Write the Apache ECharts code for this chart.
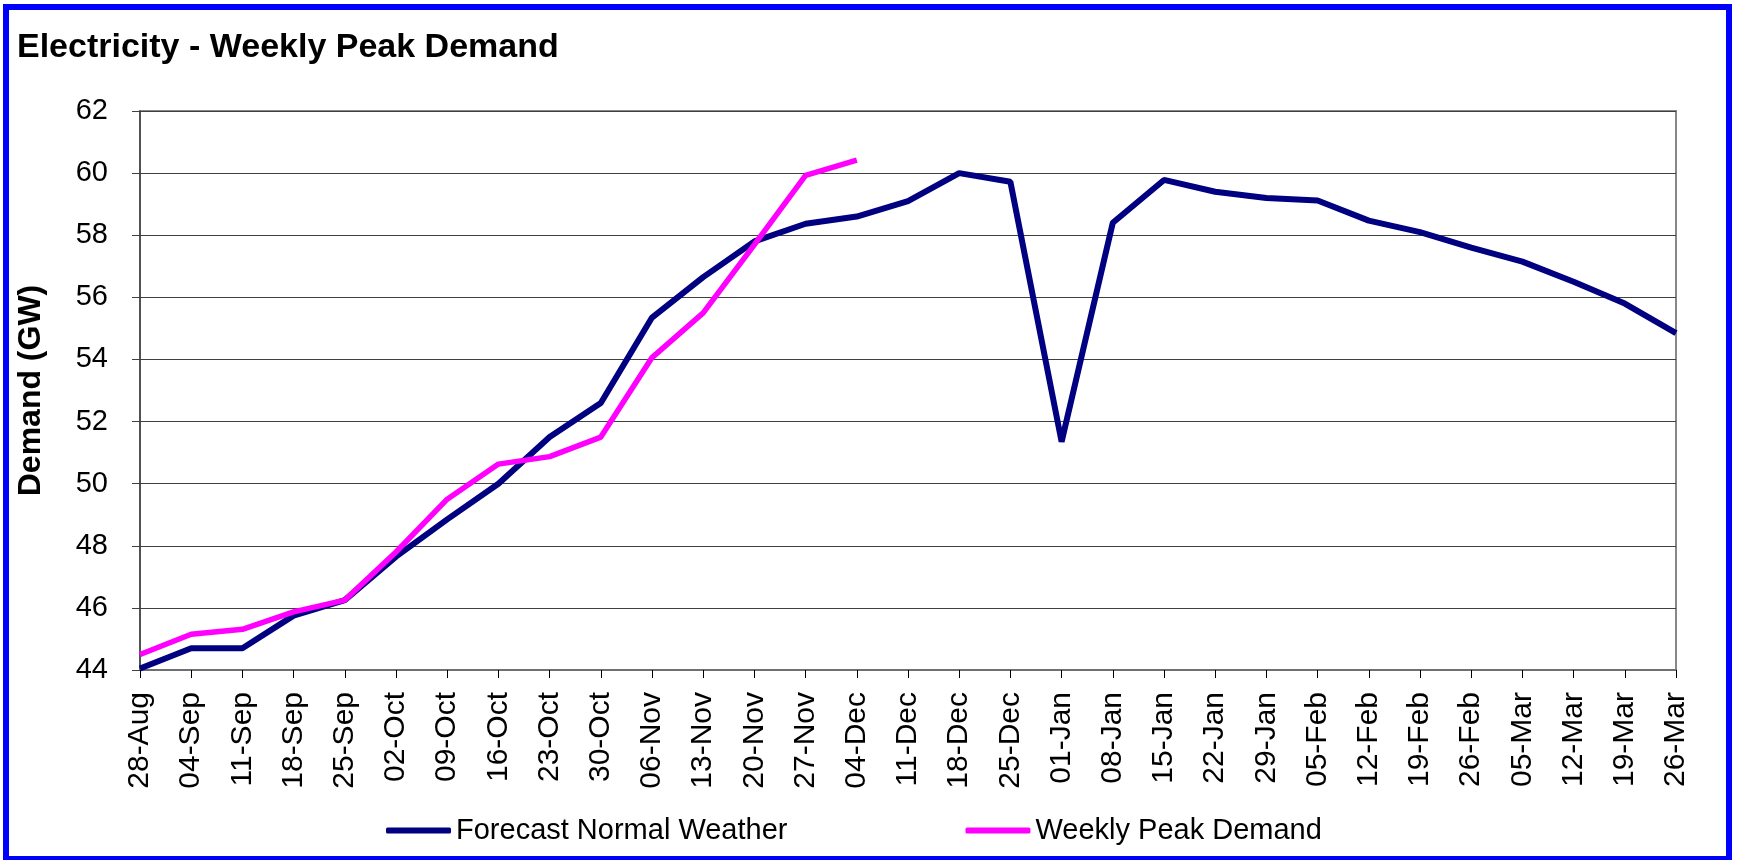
<!DOCTYPE html>
<html>
<head>
<meta charset="utf-8">
<script src="https://cdn.jsdelivr.net/npm/echarts@6/dist/echarts.min.js"></script>
<style>
  html, body { margin: 0; padding: 0; background: #ffffff; }
  #chart { width: 1739px; height: 860px; }
</style>
</head>
<body>
<div id="chart"></div>
<script>
const categories = ['28-Aug','04-Sep','11-Sep','18-Sep','25-Sep','02-Oct','09-Oct','16-Oct','23-Oct','30-Oct',
  '06-Nov','13-Nov','20-Nov','27-Nov','04-Dec','11-Dec','18-Dec','25-Dec','01-Jan','08-Jan',
  '15-Jan','22-Jan','29-Jan','05-Feb','12-Feb','19-Feb','26-Feb','05-Mar','12-Mar','19-Mar','26-Mar'];
const forecastNormalWeather = [44.05, 44.7, 44.7, 45.75, 46.25, 47.65, 48.85, 50.0, 51.5, 52.6,
  55.35, 56.65, 57.8, 58.37, 58.6, 59.1, 60.0, 59.72, 51.35, 58.4,
  59.78, 59.4, 59.2, 59.12, 58.47, 58.1, 57.6, 57.15, 56.5, 55.8, 54.85];
const weeklyPeakDemand = [44.5, 45.15, 45.31, 45.87, 46.25, 47.8, 49.5, 50.63, 50.87, 51.5,
  54.06, 55.5, 57.7, 59.93, 60.42];
const yMin = 44, yMax = 62, yStep = 2;

const chart = echarts.init(document.getElementById('chart'), null, { renderer: 'canvas' });
const FONT = '"Liberation Sans", Arial, sans-serif';
chart.setOption({
  backgroundColor: '#ffffff',
  animation: false,
  title: {
    text: 'Electricity - Weekly Peak Demand',
    left: 12, top: 26,
    textStyle: { fontFamily: FONT, fontWeight: 'bold', fontSize: 34, color: '#000000' }
  },
  legend: {
    left: 381, top: 811,
    itemWidth: 65, itemHeight: 6, itemGap: 178,
    icon: 'roundRect',
    textStyle: { fontFamily: FONT, fontSize: 29, color: '#000000' },
    data: ['Forecast Normal Weather', 'Weekly Peak Demand']
  },
  grid: {
    left: 140, right: 63, top: 111, bottom: 190,
    show: true, borderColor: '#888888', borderWidth: 2, backgroundColor: 'transparent'
  },
  xAxis: {
    type: 'category',
    data: categories,
    boundaryGap: false,
    axisLine: { lineStyle: { color: '#707070', width: 2 } },
    axisTick: { show: true, length: 8, lineStyle: { color: '#000000', width: 1 } },
    axisLabel: { rotate: 90, margin: 22, interval: 0, fontFamily: FONT, fontSize: 30, color: '#000000' },
    splitLine: { show: false }
  },
  yAxis: {
    type: 'value',
    min: yMin, max: yMax, interval: yStep,
    name: 'Demand (GW)',
    nameLocation: 'middle',
    nameRotate: 90,
    nameGap: 93,
    nameTextStyle: { fontFamily: FONT, fontWeight: 'bold', fontSize: 32, color: '#000000' },
    axisLine: { show: true, lineStyle: { color: '#404040', width: 1.5 } },
    axisTick: { show: true, length: 8, lineStyle: { color: '#404040', width: 1 } },
    axisLabel: { margin: 32, fontFamily: FONT, fontSize: 29, color: '#000000' },
    splitLine: { show: true, lineStyle: { color: '#404040', width: 1 } }
  },
  series: [
    {
      name: 'Forecast Normal Weather',
      type: 'line',
      data: forecastNormalWeather,
      showSymbol: false, symbol: 'none',
      lineStyle: { color: '#000080', width: 6 },
      itemStyle: { color: '#000080' },
      z: 3
    },
    {
      name: 'Weekly Peak Demand',
      type: 'line',
      data: weeklyPeakDemand,
      showSymbol: false, symbol: 'none',
      lineStyle: { color: '#FF00FF', width: 5.5 },
      itemStyle: { color: '#FF00FF' },
      z: 4
    }
  ],
  graphic: [
    {
      type: 'rect',
      shape: { x: 6, y: 7, width: 1723, height: 852 },
      style: { fill: 'none', stroke: '#0000FF', lineWidth: 6 },
      silent: true, z: 100
    }
  ]
});
</script>
</body>
</html>
